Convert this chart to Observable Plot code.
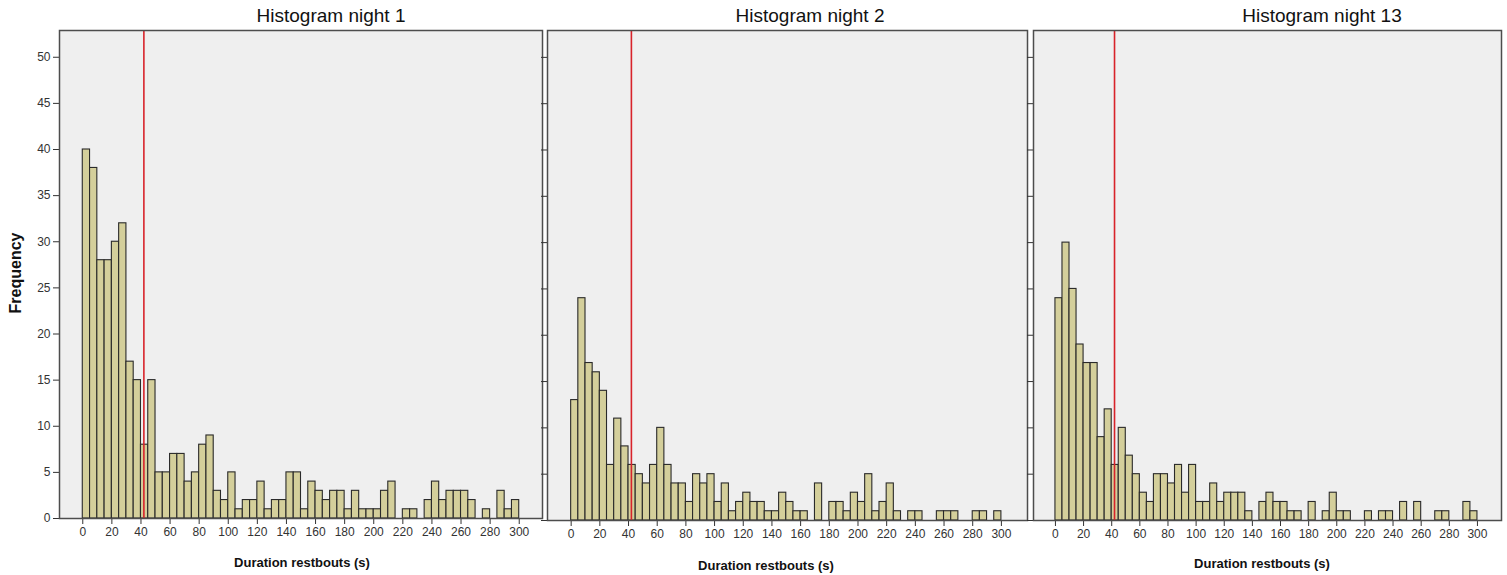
<!DOCTYPE html>
<html>
<head>
<meta charset="utf-8">
<script src="https://cdn.jsdelivr.net/npm/d3@7"></script>
<script src="https://cdn.jsdelivr.net/npm/@observablehq/plot@0.6"></script>
<style>
  body { margin: 0; background: #fff; }
  #wrap { position: relative; width: 1507px; height: 575px; font-family: "Liberation Sans", Arial, sans-serif; overflow: hidden; }
  .panel { position: absolute; top: 0; }
  .title { position: absolute; top: 6px; font-size: 19px; line-height: 19px; color: #111; white-space: nowrap; transform: translateX(-50%); }
  .xlab { position: absolute; font-size: 13px; line-height: 13px; font-weight: bold; color: #111; white-space: nowrap; transform: translateX(-50%); }
  .ylab { position: absolute; font-size: 16px; line-height: 16px; font-weight: bold; color: #111; white-space: nowrap; transform: translate(-50%, -50%) rotate(-90deg); }
</style>
</head>
<body>
<div id="wrap"></div>
<script>
// ---- data (bin width 5 s) ----
const binWidth = 5;
const binStarts = [0,5,10,15,20,25,30,35,40,45,50,55,60,65,70,75,80,85,90,95,
  100,105,110,115,120,125,130,135,140,145,150,155,160,165,170,175,180,185,190,195,
  200,205,210,215,220,225,230,235,240,245,250,255,260,265,270,275,280,285,290,295];
const night1Counts = [40,38,28,28,30,32,17,15,8,15, 5,5,7,7,4,5,8,9,3,2,
  5,1,2,2,4,1,2,2,5,5, 1,4,3,2,3,3,1,3,1,1, 1,3,4,0,1,1,0,2,4,2, 3,3,3,2,0,1,0,3,1,2];
const night2Counts = [13,24,17,16,14,6,11,8,6,5, 4,6,10,6,4,4,2,5,4,5,
  2,4,1,2,3,2,2,1,1,3, 2,1,1,0,4,0,2,2,1,3, 2,5,1,2,4,1,0,1,1,0, 0,1,1,1,0,0,1,1,0,1];
const night13Counts = [24,30,25,19,17,17,9,12,6,10, 7,5,3,2,5,5,4,6,3,6,
  2,2,4,2,3,3,3,1,0,2, 3,2,2,1,1,0,2,0,1,3, 1,1,0,0,1,0,1,1,0,2, 0,2,0,0,1,1,0,0,2,1];
const panelTitles = ["Histogram night 1", "Histogram night 2", "Histogram night 13"];
const xTicks = [0,20,40,60,80,100,120,140,160,180,200,220,240,260,280,300];
const yTicks = [0,5,10,15,20,25,30,35,40,45,50];
const cutoff = 42;
const xAxisTitle = "Duration restbouts (s)";
const yAxisTitle = "Frequency";

// ---- layout ----
const layout = [
  { counts: night1Counts, left: 0,    width: 545, mL: 59, mR: 3, mB: 57, xDomain: [-16, 316],   yLabels: true,  titleX: 331,  labX: 302,  labY: 556 },
  { counts: night2Counts, left: 538,  width: 492, mL: 9,  mR: 3, mB: 55, xDomain: [-16.5, 318.2], yLabels: false, titleX: 810,  labX: 766,  labY: 559 },
  { counts: night13Counts, left: 1024, width: 483, mL: 9, mR: 6, mB: 55, xDomain: [-15.6, 317.1], yLabels: false, titleX: 1322, labX: 1262, labY: 557 }
];

const wrap = document.getElementById("wrap");

layout.forEach((p, i) => {
  const data = binStarts.map((s, j) => ({ x0: s, x1: s + binWidth, count: p.counts[j] })).filter(d => d.count > 0);
  const chart = Plot.plot({
    width: p.width,
    height: 575,
    marginTop: 30,
    marginBottom: p.mB,
    marginLeft: p.mL,
    marginRight: p.mR,
    style: { fontSize: "12px", fontFamily: "'Liberation Sans', Arial, sans-serif", color: "#333", background: "transparent", overflow: "visible" },
    x: { domain: p.xDomain, ticks: xTicks, tickSize: 6, tickPadding: 3, label: null },
    y: { domain: [0, 52.9], ticks: yTicks, tickSize: 6, tickPadding: 3, label: null,
         tickFormat: p.yLabels ? (d => String(d)) : (() => "") },
    marks: [
      Plot.frame({ fill: "#efefef" }),
      Plot.rectY(data, { x1: "x0", x2: "x1", y: "count", fill: "#d4cf9b", stroke: "#2a2a2a", strokeWidth: 1.1 }),
      Plot.ruleX([cutoff], { stroke: "#d8232a", strokeWidth: 1.6 }),
      Plot.frame({ stroke: "#4d4d4d", strokeWidth: 1.5 })
    ]
  });
  chart.classList.add("panel");
  chart.style.left = p.left + "px";
  wrap.appendChild(chart);

  const t = document.createElement("div");
  t.className = "title";
  t.textContent = panelTitles[i];
  t.style.left = p.titleX + "px";
  wrap.appendChild(t);

  const xl = document.createElement("div");
  xl.className = "xlab";
  xl.textContent = xAxisTitle;
  xl.style.left = p.labX + "px";
  xl.style.top = p.labY + "px";
  wrap.appendChild(xl);
});

const yl = document.createElement("div");
yl.className = "ylab";
yl.textContent = yAxisTitle;
yl.style.left = "16px";
yl.style.top = "273px";
wrap.appendChild(yl);
</script>
</body>
</html>
